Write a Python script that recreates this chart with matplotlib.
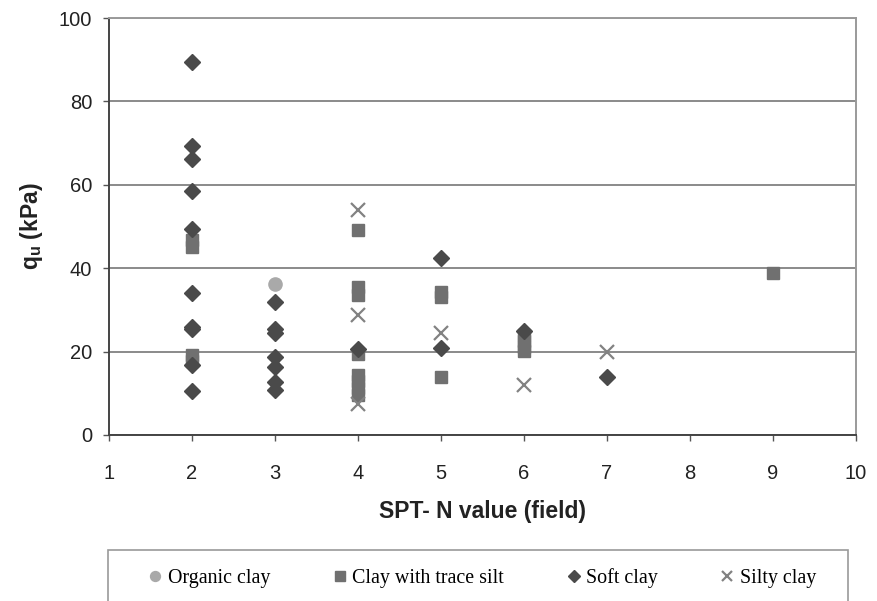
import matplotlib
matplotlib.use("Agg")
import matplotlib.pyplot as plt
from matplotlib.patches import Rectangle

# ---- data ----
organic_x = [3]
organic_y = [36.3]

silt_x = [2, 2, 2, 2, 4, 4, 4, 4, 4, 4, 4, 4, 5, 5, 5, 6, 6, 6, 6, 9]
silt_y = [46.7, 45.2, 19.2, 17.8, 49.2, 35.4, 33.6, 19.5, 14.5, 13.0, 11.2, 9.6,
          34.3, 33.0, 13.8, 24.0, 22.6, 21.2, 20.2, 38.8]

soft_x = [2, 2, 2, 2, 2, 2, 2, 2, 2, 2, 3, 3, 3, 3, 3, 3, 3, 4, 5, 5, 6, 7]
soft_y = [89.5, 69.4, 66.3, 58.4, 49.3, 34.0, 26.0, 25.5, 16.9, 10.6,
          31.8, 25.4, 24.5, 18.8, 16.3, 12.7, 10.7, 20.6, 42.5, 20.8, 25.0, 14.0]

silty_x = [4, 4, 4, 5, 6, 7]
silty_y = [54.0, 28.8, 7.4, 24.4, 12.0, 20.0]

x_ticks = list(range(1, 11))
y_ticks = [0, 20, 40, 60, 80, 100]
labels = ["Organic clay", "Clay with trace silt", "Soft clay", "Silty clay"]

# ---- figure ----
fig = plt.figure(figsize=(8.77, 6.01), dpi=100)
ax = fig.add_axes([109 / 877, 1 - 435 / 601, 747 / 877, 417 / 601])

sans = ["Liberation Sans", "DejaVu Sans"]
tick_font = dict(family=sans, size=14.5)

h1, = ax.plot(organic_x, organic_y, linestyle="none", marker="o", markersize=9.5,
              color="#a9a9a9", zorder=3)
h2, = ax.plot(silt_x, silt_y, linestyle="none", marker="s", markersize=9,
              color="#707070", zorder=3)
h3, = ax.plot(soft_x, soft_y, linestyle="none", marker="D", markersize=8.3,
              color="#4a4a4a", zorder=4)
h4, = ax.plot(silty_x, silty_y, linestyle="none", marker="x", markersize=9.5,
              markeredgewidth=1.6, color="#828282", zorder=5)

ax.set_xlim(1, 10)
ax.set_ylim(0, 100)
ax.set_xticks(x_ticks)
ax.set_yticks(y_ticks)
ax.set_xticklabels([str(v) for v in x_ticks], fontdict=tick_font, color="#222222")
ax.set_yticklabels([str(v) for v in y_ticks], fontdict=tick_font, color="#222222")
ax.tick_params(axis="both", direction="out", length=4, width=1, color="#555555")
ax.tick_params(axis="y", pad=8)
ax.tick_params(axis="x", pad=17)

ax.yaxis.grid(True, color="#8a8a8a", linewidth=1.4)
ax.set_axisbelow(True)
for side in ["top", "right"]:
    ax.spines[side].set_color("#9a9a9a")
    ax.spines[side].set_linewidth(1.4)
for side in ["left", "bottom"]:
    ax.spines[side].set_color("#444444")
    ax.spines[side].set_linewidth(1.4)

plt.rcParams["mathtext.default"] = "regular"
ax.set_xlabel("SPT- N value (field)", fontdict=dict(family=sans, size=16.5, weight="bold"),
              color="#222222", labelpad=12)
ax.set_ylabel("q$_{u}$ (kPa)", fontdict=dict(family=sans, size=16.5, weight="bold"),
              color="#222222", labelpad=10)

# legend box
fig.patches.append(Rectangle((108 / 877, -0.02), (848 - 108) / 877, (601 - 550) / 601 + 0.02,
                             transform=fig.transFigure, facecolor="white",
                             edgecolor="#9a9a9a", linewidth=1.2, zorder=0))
leg = fig.legend([h1, h2, h3, h4], labels, loc="center",
                 bbox_to_anchor=(483 / 877, 1 - 578 / 601), ncol=4, frameon=False,
                 prop=dict(family=["Liberation Serif", "DejaVu Serif"], size=14.4),
                 handlelength=0.55, handletextpad=0.35, columnspacing=3.2,
                 markerscale=0.75)

fig.savefig("out.png", dpi=100)
